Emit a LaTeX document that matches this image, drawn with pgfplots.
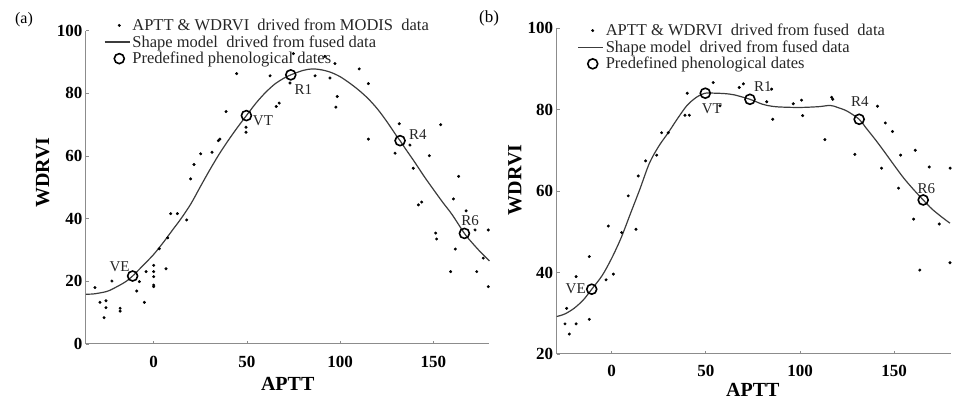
\documentclass[border=0pt]{standalone}
\usepackage{pgfplots}
\pgfplotsset{compat=1.18}
\usepackage{fontspec}
\setmainfont{Liberation Serif}
\definecolor{axgray}{HTML}{8C8C8C}
\definecolor{curvegray}{HTML}{3C3C3C}
\tikzset{lab/.style={font=\fontsize{15}{15}\selectfont, inner sep=0pt, text=black!85}}
\pgfplotsset{
  common/.style={
    scale only axis,
    anchor=south west,
    axis x line*=bottom,
    axis y line*=left,
    axis line style={axgray, line width=1pt},
    tick style={axgray, line width=0.8pt},
    tick align=inside,
    major tick length=3pt,
    /pgf/number format/assume math mode=true,
    ticklabel style={font=\fontsize{17}{17}\selectfont\bfseries},
    label style={font=\fontsize{20}{20}\selectfont\bfseries},
    xlabel={APTT}, ylabel={WDRVI},
    xtick={0,50,100,150},
    clip=false,
    legend cell align=left,
    legend style={draw=none, fill=none, font=\fontsize{16.5}{16.5}\selectfont, row sep=-0.5pt, inner sep=1pt,
      text=black!85},
    every odd column/.style={column sep=3pt},
  },
  dots/.style={only marks, mark=*, mark size=1.3pt, black},
  curve/.style={no marks, smooth, curvegray, line width=1.2pt,
    legend image code/.code={\draw[##1] (-6pt,0pt) -- (19pt,0pt);}},
  circ/.style={only marks, mark=o, mark size=5pt, black, mark options={line width=1.6pt}},
}
\begin{document}
\begin{tikzpicture}
\useasboundingbox (0pt,0pt) rectangle (962pt,401pt);
\node[font=\fontsize{16}{16}\selectfont, anchor=center] at (24pt,381pt) {(a)};
\node[font=\fontsize{17}{17}\selectfont, anchor=center] at (489pt,383pt) {(b)};
% ---------------- panel (a)
\begin{axis}[common,
  at={(86pt,57pt)}, width=403.4pt, height=313.3pt,
  xmin=-36.3, xmax=180, ymin=0, ymax=100,
  ytick={0,20,40,60,80,100},
  xticklabel style={yshift=-9pt},
  xlabel style={at={(axis description cs:0.5,-0.128)}, anchor=center},
  ylabel style={at={(axis description cs:-0.107,0.547)}, anchor=center},
  legend style={at={(axis description cs:0.042,1.048)}, anchor=north west},
]
\addplot[dots] coordinates {
(-31.5,18) (-28.8,13.3) (-25.6,13.8) (-25.6,11.6) (-26.6,8.4) (-22.4,20.1)
(-18,11.4) (-18,10.5) (-9.1,16.9) (-7.7,19.9) (-5,13.3) (-4.1,23.1)
(0,25.1) (0,23.1) (0,21.5) (0,18.8) (0,18.3) (3,30.4) (6.6,24) (7.5,33.9)
(9.1,41.6) (12.7,41.6) (17.7,39.6) (19.8,52.7) (21.6,57.3) (25.2,60.7)
(31.3,61.2) (34.7,64.9) (35.5,65.4) (38.8,74.2) (44.5,86.3) (49.5,69.2)
(49.5,67.6) (65.7,75.8) (67.3,76.9) (62.4,85.6) (73.1,83.3) (74.9,92.7)
(86.5,85.6) (91.8,91.8) (94.5,84.9) (97.2,89.5) (98.4,79) (97.7,75.6)
(110.2,87.8) (115.1,83.1) (115.1,65.4) (131.7,70.3) (129.4,60.9)
(137.4,63.5) (147.8,60.1) (153.9,70) (139.2,56.1) (163.5,53.5)
(160.7,46.3) (141.9,44.4) (143.7,45.3) (167.5,42.5) (172.3,36.4)
(179.4,36.4) (151.2,35.4) (151.7,33.5) (161.7,30.3) (176.7,27.4)
(159.2,23.1) (173.2,23.1) (179.4,18.3)
};
\addlegendentry{APTT \& WDRVI\ \ drived from MODIS\ \ data}
\addplot[curve] coordinates {
(-36.3,15.9) (-32,16) (-25,16.8) (-20,18.2) (-15,19.9) (-11.3,21.7)
(-5,25.5) (0,28.6) (5,32.3) (10,36.3) (15,40.3) (20,44.8) (25,50.2)
(30,55.5) (35,60.5) (40,65) (45,69.2) (49.7,72.9) (55,77) (60,80.3)
(65,83) (70,84.9) (73.5,85.9) (80,87.3) (85,87.8) (90,87.5) (95,86.7)
(100,85.3) (105,83.3) (110,81) (115,78.3) (120,75) (125,71) (130,66.6)
(132.1,64.9) (135,62.3) (140,58) (145,53.5) (150,49.3) (155,45.2)
(160,41.3) (166.6,35.3) (170,32.8) (175,29.5) (180,26.5)
};
\addlegendentry{Shape model\ \ drived from fused data}
\addplot[circ] coordinates {
(-11.3,21.7) (49.7,72.9) (73.5,85.9) (132.1,64.9) (166.6,35.3)
};
\addlegendentry{Predefined phenological dates}
\node[lab] at (axis cs:-18.3,24.6) {VE};
\node[lab] at (axis cs:58.6,71.4) {VT};
\node[lab] at (axis cs:80.2,81.2) {R1};
\node[lab] at (axis cs:141.6,66.8) {R4};
\node[lab] at (axis cs:169.6,39.4) {R6};
\end{axis}
% ---------------- panel (b)
\begin{axis}[common,
  at={(556.7pt,47pt)}, width=394pt, height=326pt,
  xmin=-29.2, xmax=180, ymin=20, ymax=100,
  ytick={20,40,60,80,100},
  xticklabel style={yshift=-8pt},
  xlabel style={at={(axis description cs:0.498,-0.11)}, anchor=center},
  ylabel style={at={(axis description cs:-0.106,0.534)}, anchor=center},
  legend style={at={(axis description cs:0.05,1.022)}, anchor=north west},
]
\addplot[dots] coordinates {
(-24.8,27.4) (-22.5,24.9) (-23.9,31.2) (-18.9,27.4) (-18.9,39) (-11.9,28.5)
(-11.9,43.9) (-3,38.2) (-1.8,51.4) (0.9,39.6) (5.3,49.8) (8.8,58.8)
(12.9,50.6) (14.1,63.7) (18,67.4) (23.9,68.8) (26.5,74.3) (30,74.3)
(38.9,78.6) (41.2,78.6) (40.1,84) (53.9,86.6) (57.5,80.9) (67.7,85.4)
(69.9,86.3) (84.9,85) (82.3,81.9) (85.5,77.6) (96.4,81.4) (100.8,82.3)
(101.4,78.5) (113.2,72.6) (116.8,83) (117.4,82.5) (129.1,69) (141.1,80.8)
(145.3,76.7) (149.1,74.6) (153.4,68.8) (143.3,65.6) (161.2,70) (168.6,65.9)
(179.7,65.6) (152.3,60.7) (160.3,53.1) (163.6,40.6) (173.9,51.9) (179.6,42.4)
};
\addlegendentry{APTT \& WDRVI\ \ drived from fused\ \ data}
\addplot[curve] coordinates {
(-29.2,29.2) (-25,29.8) (-20,31.2) (-15,33.3) (-10.6,35.9) (-5,39.3)
(0,43.5) (5,48.5) (10,54.5) (15,60.5) (20,66.8) (25,71) (30,74.3)
(35,77.8) (40,81) (45,83) (49.7,84) (55,84) (60,83.9) (65,83.6)
(73.4,82.5) (80,81.3) (85,80.8) (90,80.6) (100,80.5) (110,80.7) (116,81)
(120,80.5) (125,79.6) (131.4,77.6) (135,75.5) (140,72.6) (145,69.5)
(150,66.3) (155,63.2) (160,60.5) (165.4,57.8) (170,55.6) (175,53.7) (179.6,52.1)
};
\addlegendentry{Shape model\ \ drived from fused data}
\addplot[circ] coordinates {
(-10.6,35.9) (49.7,84) (73.4,82.5) (131.4,77.6) (165.4,57.8)
};
\addlegendentry{Predefined phenological dates}
\node[lab] at (axis cs:-19.1,36) {VE};
\node[lab] at (axis cs:53.2,80.3) {VT};
\node[lab] at (axis cs:80.3,85.7) {R1};
\node[lab] at (axis cs:131.8,82) {R4};
\node[lab] at (axis cs:167.1,60.6) {R6};
\end{axis}
\end{tikzpicture}
\end{document}
